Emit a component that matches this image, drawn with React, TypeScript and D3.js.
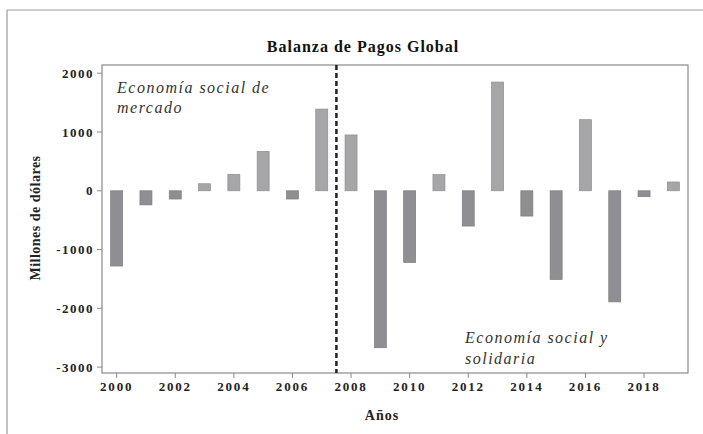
import React from "react";
import * as d3 from "d3";

const years = [2000, 2001, 2002, 2003, 2004, 2005, 2006, 2007, 2008, 2009, 2010, 2011, 2012, 2013, 2014, 2015, 2016, 2017, 2018, 2019];
const values = [-1280, -240, -140, 120, 280, 670, -140, 1390, 950, -2670, -1220, 275, -600, 1850, -430, -1510, 1210, -1890, -100, 150];
const yTicks = [2000, 1000, 0, -1000, -2000, -3000];
const xTicks = [2000, 2002, 2004, 2006, 2008, 2010, 2012, 2014, 2016, 2018];
const divider = 2007.5;
const title = "Balanza de Pagos Global";
const xLabel = "Años";
const yLabel = "Millones de dólares";
const noteLeft = ["Economía social de", "mercado"];
const noteRight = ["Economía social y", "solidaria"];

const font = "Liberation Serif, Times New Roman, DejaVu Serif, serif";

function T(props: any) {
  const { fs, fw, it, ls, style, children, ...rest } = props;
  return (
    <text {...rest} style={{ fontFamily: font, fontSize: fs, fontWeight: fw || "normal", fontStyle: it ? "italic" : "normal", letterSpacing: ls || 0, ...(style || {}) }}>
      {children}
    </text>
  );
}

export default function App() {
  const W = 703, H = 434;
  const left = 102, right = 688, top = 65, bottom = 373;
  const x = d3.scaleLinear().domain([1999.5, 2019.5]).range([left, right]);
  const y = d3.scaleLinear().domain([-3100, 2140]).range([bottom, top]);
  const bw = 12;
  return (
    <svg width={W} height={H} style={{ position: "absolute", left: 0, top: 0, display: "block", background: "#fff" }}>
      <rect x={0} y={0} width={W} height={H} fill="#fff" />
      <line x1={7} y1={10} x2={W} y2={10} stroke="#999" strokeWidth={1.2} />
      <line x1={7} y1={10} x2={7} y2={H} stroke="#999" strokeWidth={1.2} />
      <T x={363} y={52} textAnchor="middle" fs={16} fw="bold" ls={1} fill="#111">{title}</T>
      {values.map((v, i) => (
        <rect key={i}
          x={x(years[i]) - bw / 2}
          y={y(Math.max(0, v))}
          width={bw}
          height={Math.abs(y(v) - y(0))}
          fill={v < 0 ? "#8f8f93" : "#a6a6a9"}
          stroke={v < 0 ? "#7c7c80" : "#8e8e91"}
          strokeWidth={0.7} />
      ))}
      <rect x={left} y={top} width={right - left} height={bottom - top} fill="none" stroke="#8a8a8a" strokeWidth={1.2} />
      {yTicks.map(t => (
        <g key={t}>
          <line x1={left - 5} x2={left} y1={y(t)} y2={y(t)} stroke="#8a8a8a" />
          <T x={94} y={y(t)} dy="0.35em" textAnchor="end" fs={13} fw="bold" ls={1.5} fill="#222">{t}</T>
        </g>
      ))}
      {xTicks.map(t => (
        <g key={t}>
          <line x1={x(t)} x2={x(t)} y1={bottom} y2={bottom + 5} stroke="#8a8a8a" />
          <T x={x(t)} y={391} textAnchor="middle" fs={13} fw="bold" ls={1.8} fill="#222">{t}</T>
        </g>
      ))}
      <line x1={x(divider)} x2={x(divider)} y1={top} y2={bottom} stroke="#222" strokeWidth={2.5} strokeDasharray="5,3" />
      <T it fs={16} ls={1.5} fill="#333">
        <tspan x={117} y={93}>{noteLeft[0]}</tspan>
        <tspan x={117} y={113}>{noteLeft[1]}</tspan>
      </T>
      <T it fs={16} ls={1.5} fill="#333">
        <tspan x={465} y={343}>{noteRight[0]}</tspan>
        <tspan x={465} y={364}>{noteRight[1]}</tspan>
      </T>
      <T x={382} y={420} textAnchor="middle" fs={14} fw="bold" ls={1} fill="#222">{xLabel}</T>
      <T transform="translate(40,218) rotate(-90)" textAnchor="middle" fs={14} fw="bold" ls={0.5} fill="#222">{yLabel}</T>
    </svg>
  );
}
